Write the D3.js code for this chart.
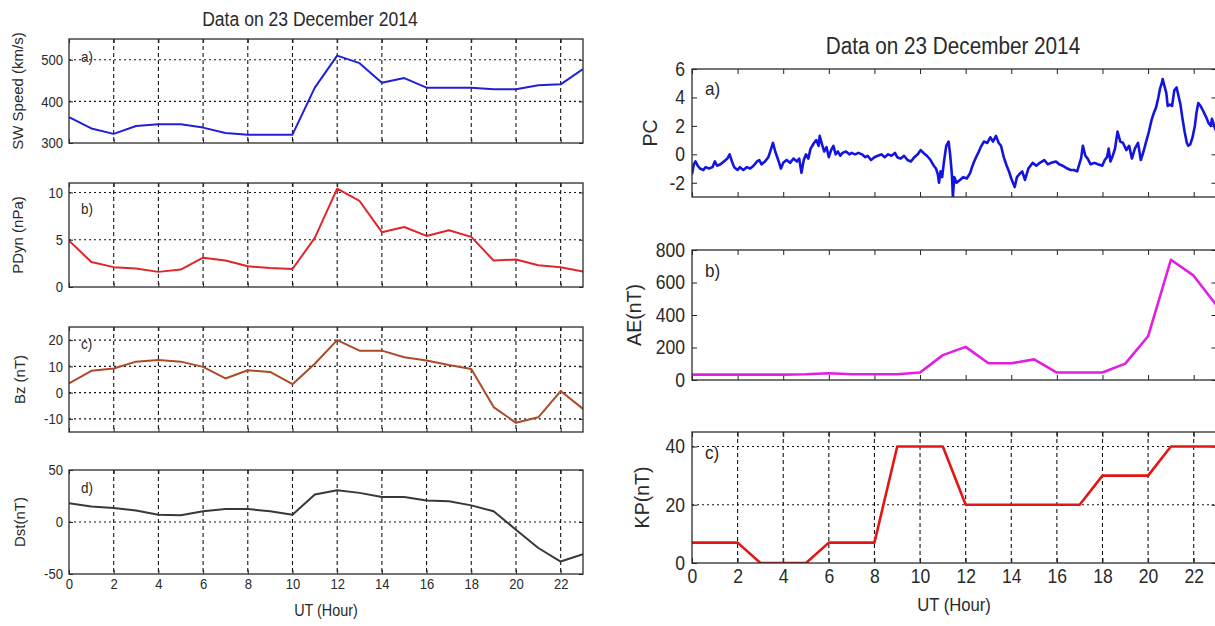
<!DOCTYPE html>
<html><head><meta charset="utf-8">
<script src="https://cdn.jsdelivr.net/npm/d3@7"></script>
<style>
body{margin:0;background:#fff}
svg{display:block}
text{font-family:"Liberation Sans",Arial,sans-serif;fill:#2a2a2a}
</style>
</head><body>
<svg id="c" width="1215" height="626"></svg>
<script>
// ---------------- data ----------------
const hours = [0,1,2,3,4,5,6,7,8,9,10,11,12,13,14,15,16,17,18,19,20,21,22,23];
const xTickHours = [0,2,4,6,8,10,12,14,16,18,20,22];
const xTickLabels = ["0","2","4","6","8","10","12","14","16","18","20","22"];

const swSpeed = [362,335,322,341,345,345,337,324,320,320,320,433,510,492,445,456,433,433,433,429,429,439,441,478];
const pDyn    = [4.9,2.65,2.1,1.95,1.6,1.85,3.1,2.8,2.2,2.0,1.9,5.2,10.4,9.1,5.8,6.35,5.4,6.0,5.3,2.8,2.9,2.3,2.1,1.65];
const bz      = [3.5,8.3,9.2,11.8,12.4,11.8,9.8,5.4,8.5,7.9,3.2,11,20,16,16,13.5,12.2,10.5,9,-5.5,-11.5,-9.4,0.6,-6.2];
const dst     = [18,15,13.5,11,7,6.5,10.3,12.5,12.5,10.3,7,26.5,30.6,28,24,24,20.6,20,16,10.3,-7.4,-25,-38,-31];
const ae      = [33,33,33,33,33,35,42,35,35,35,46,153,204,103,103,127,46,46,46,101,269,740,642,460];
const kp      = [7,7,7,0,0,0,7,7,7,40,40,40,20,20,20,20,20,20,30,30,30,40,40,40];

const pcHour = [
 0,0.08,0.15,0.25,0.35,0.5,0.6,0.75,0.9,1.0,1.1,1.25,1.4,1.55,1.65,1.75,1.85,2.0,2.1,2.25,
 2.4,2.55,2.7,2.85,2.95,3.05,3.2,3.35,3.45,3.55,3.65,3.8,3.9,4.0,4.15,4.3,4.45,4.6,4.7,4.8,
 4.9,5.0,5.1,5.2,5.35,5.45,5.55,5.6,5.7,5.8,5.9,6.0,6.1,6.2,6.3,6.4,6.5,6.6,6.75,6.9,
 7.0,7.15,7.3,7.45,7.6,7.7,7.85,8.0,8.15,8.3,8.45,8.6,8.75,8.9,9.0,9.15,9.3,9.45,9.6,9.75,
 9.9,10.03,10.15,10.3,10.46,10.6,10.7,10.78,10.83,10.9,10.97,11.05,11.15,11.25,11.32,11.4,11.44,11.5,11.6,11.75,
 11.9,12.05,12.2,12.3,12.4,12.55,12.66,12.8,12.95,13.08,13.2,13.33,13.45,13.55,13.67,13.8,13.9,14.0,14.15,14.25,
 14.35,14.48,14.6,14.75,14.94,15.1,15.25,15.45,15.6,15.75,15.96,16.1,16.25,16.46,16.6,16.75,16.89,17.0,17.06,17.14,
 17.25,17.35,17.48,17.65,17.8,17.99,18.1,18.2,18.27,18.35,18.45,18.55,18.66,18.78,18.9,19.05,19.17,19.29,19.42,19.56,
 19.68,19.8,19.9,20.02,20.15,20.25,20.35,20.45,20.52,20.6,20.64,20.72,20.8,20.86,20.95,21.05,21.15,21.25,21.35,21.42,
 21.49,21.6,21.7,21.76,21.85,21.95,22.05,22.12,22.2,22.3,22.4,22.55,22.65,22.75,22.8,22.88,22.94,23.0];
const pcValue = [
 -1.4,-0.7,-0.5,-0.8,-1.0,-1.1,-0.9,-1.0,-0.9,-0.5,-0.8,-0.7,-0.5,-0.3,0.0,-0.5,-0.9,-1.1,-0.9,-1.1,
 -0.9,-1.0,-0.8,-0.5,-0.4,-0.7,-0.5,-0.2,0.3,0.8,0.2,-0.5,-1.0,-0.6,-0.4,-0.6,-0.3,-0.5,-0.3,-1.3,
 -0.4,0.0,-0.3,0.4,0.8,1.0,0.6,1.3,0.7,0.2,0.5,-0.2,0.3,0.6,0.0,0.2,-0.1,0.1,0.2,0.0,
 0.1,0.0,0.1,0.0,-0.2,-0.1,-0.4,-0.2,-0.1,0.0,-0.2,0.0,-0.1,0.1,-0.2,-0.3,-0.1,-0.4,-0.5,-0.2,
 0.0,0.3,0.1,-0.1,-0.4,-0.8,-1.0,-1.4,-2.0,-1.2,-1.6,-0.5,0.6,0.9,0.0,-1.5,-3.0,-1.6,-2.0,-1.8,
 -1.6,-1.7,-1.3,-0.8,-0.4,0.1,0.5,0.9,0.8,1.2,0.9,1.3,0.8,0.6,-0.2,-0.8,-1.2,-1.7,-2.3,-1.6,
 -1.4,-1.2,-1.8,-1.0,-0.6,-0.8,-0.6,-0.4,-0.7,-0.6,-0.5,-0.7,-0.8,-1.0,-1.1,-1.1,-1.2,-0.6,-0.3,0.6,
 -0.1,-0.3,-0.7,-0.6,-0.7,-0.8,-0.4,-0.2,0.4,-0.5,-0.1,0.4,1.6,0.9,0.8,0.3,0.6,-0.3,0.4,0.8,
 -0.4,0.2,0.8,1.5,2.4,2.9,3.3,4.0,4.6,5.0,5.3,4.8,4.3,3.4,3.5,3.4,4.5,4.7,4.0,3.5,
 2.7,1.6,0.8,0.6,0.7,1.2,2.0,2.9,3.6,3.4,3.1,2.6,2.2,2.0,2.5,2.1,1.8,1.6];

const titleText = "Data on 23 December 2014";

// ---------------- drawing ----------------
const svg = d3.select('#c');
const SQ = 0.9;
function squeeze(sel){
  sel.each(function(){
    const L = this.getComputedTextLength();
    this.setAttribute('textLength', (L*SQ).toFixed(1));
    this.setAttribute('lengthAdjust','spacingAndGlyphs');
  });
}

function panel(o){
  const x = d3.scaleLinear().domain([0,23]).range([o.left,o.right]);
  const y = d3.scaleLinear().domain(o.yDomain).range([o.bottom,o.top]);
  const g = svg.append('g');
  const cid = 'clip-'+o.name;
  svg.append('clipPath').attr('id',cid).append('rect')
    .attr('x',o.left).attr('y',o.top).attr('width',o.right-o.left).attr('height',o.bottom-o.top);

  if(o.grid){
    g.append('g').selectAll('line').data(xTickHours.slice(1)).join('line')
      .attr('x1',d=>x(d)).attr('x2',d=>x(d)).attr('y1',o.top).attr('y2',o.bottom)
      .attr('stroke','#151515').attr('stroke-width',1.1).attr('stroke-dasharray','4,3');
    g.append('g').selectAll('line').data(o.yGrid).join('line')
      .attr('x1',o.left).attr('x2',o.right).attr('y1',d=>y(d)).attr('y2',d=>y(d))
      .attr('stroke','#151515').attr('stroke-width',1.1).attr('stroke-dasharray','2,3');
  }

  const tk = o.tick;
  const axes = [
    d3.axisLeft(y).tickValues(o.yTicks).tickFormat(d=>String(d)),
    d3.axisRight(y).tickValues(o.yTicks).tickFormat(''),
    d3.axisTop(x).tickValues(xTickHours).tickFormat(''),
    d3.axisBottom(x).tickValues(xTickHours).tickFormat((d,i)=>o.xLabels ? xTickLabels[i] : '')
  ];
  const trans = [`translate(${o.left},0)`,`translate(${o.right},0)`,`translate(0,${o.top})`,`translate(0,${o.bottom})`];
  axes.forEach((a,i)=>{
    a.tickSizeInner(-tk).tickSizeOuter(0).tickPadding(i===3?o.xPad:o.yPad);
    const ag = g.append('g').attr('transform',trans[i]).call(a);
    ag.select('.domain').remove();
    ag.selectAll('line').attr('stroke','#222').attr('stroke-width',1);
    ag.selectAll('text').attr('font-size',o.tickFont).attr('font-family',null).attr('fill','#2a2a2a');
    if(i===0 || i===3) squeeze(ag.selectAll('text'));
  });

  const line = d3.line().x((d,i)=>x(o.xs[i])).y(d=>y(d));
  g.append('path').datum(o.ys).attr('d',line)
    .attr('fill','none').attr('stroke',o.color).attr('stroke-width',o.lw)
    .attr('stroke-linejoin','round').attr('clip-path',`url(#${cid})`);

  g.append('rect').attr('x',o.left).attr('y',o.top).attr('width',o.right-o.left).attr('height',o.bottom-o.top)
    .attr('fill','none').attr('stroke','#2b2b2b').attr('stroke-width',1.3);

  // panel letter
  const lt = g.append('text').attr('x',o.letterX).attr('y',o.letterY).attr('font-size',o.letterFont).text(o.letter);
  squeeze(lt);
  // y label
  g.append('text').attr('transform',`translate(${o.ylabX},${(o.top+o.bottom)/2}) rotate(-90)`)
    .attr('text-anchor','middle').attr('font-size',o.ylabFont).text(o.ylabel);
}

// Left column
const L = {left:69, right:583, tick:4, tickFont:14.5, yPad:6, xPad:5, letterFont:15, ylabFont:15, lw:2};
panel(Object.assign({}, L, {name:'sw', top:39, bottom:143, yDomain:[300,550], yTicks:[300,400,500], yGrid:[400,500], grid:true,
  xs:hours, ys:swSpeed, color:'#2020d8', letter:'a)', letterX:81, letterY:62, ylabel:'SW Speed (km/s)', ylabX:23}));
panel(Object.assign({}, L, {name:'pd', top:183, bottom:287, yDomain:[0,11], yTicks:[0,5,10], yGrid:[5,10], grid:true,
  xs:hours, ys:pDyn, color:'#e0262a', letter:'b)', letterX:81, letterY:214, ylabel:'PDyn (nPa)', ylabX:23}));
panel(Object.assign({}, L, {name:'bz', top:327, bottom:432, yDomain:[-15,25], yTicks:[-10,0,10,20], yGrid:[-10,0,10,20], grid:true,
  xs:hours, ys:bz, color:'#ad4a28', letter:'c)', letterX:81, letterY:349, ylabel:'Bz (nT)', ylabX:25}));
panel(Object.assign({}, L, {name:'dst', top:470, bottom:574, yDomain:[-50,50], yTicks:[-50,0,50], yGrid:[0], grid:true,
  xs:hours, ys:dst, color:'#383838', letter:'d)', letterX:81, letterY:493, ylabel:'Dst(nT)', ylabX:25, xLabels:true}));

// Right column
const R = {left:692, right:1216.5, tick:5, tickFont:19.5, yPad:7, xPad:6, letterFont:19, ylabFont:19.5, lw:2.6};
panel(Object.assign({}, R, {name:'pc', top:69, bottom:197, yDomain:[-3,6], yTicks:[-2,0,2,4,6], yGrid:[], grid:false,
  xs:pcHour, ys:pcValue, color:'#1414e0', lw:2.6, letter:'a)', letterX:705, letterY:95, ylabel:'PC', ylabX:657}));
panel(Object.assign({}, R, {name:'ae', top:250, bottom:380, yDomain:[0,800], yTicks:[0,200,400,600,800], yGrid:[], grid:false,
  xs:hours, ys:ae, color:'#e21ee2', letter:'b)', letterX:705, letterY:277, ylabel:'AE(nT)', ylabX:641}));
panel(Object.assign({}, R, {name:'kp', top:432, bottom:563, yDomain:[0,45], yTicks:[0,20,40], yGrid:[20,40], grid:true,
  xs:hours, ys:kp, color:'#e41515', letter:'c)', letterX:705, letterY:459, ylabel:'KP(nT)', ylabX:649, xLabels:true}));

// titles and x labels
squeeze(svg.append('text').attr('x',310).attr('y',26).attr('text-anchor','middle').attr('font-size',19.5).text(titleText));
squeeze(svg.append('text').attr('x',953).attr('y',54).attr('text-anchor','middle').attr('font-size',23).text(titleText));
squeeze(svg.append('text').attr('x',326).attr('y',616).attr('text-anchor','middle').attr('font-size',16).text('UT (Hour)'));
squeeze(svg.append('text').attr('x',954).attr('y',611).attr('text-anchor','middle').attr('font-size',18.5).text('UT (Hour)'));
</script>
</body></html>
